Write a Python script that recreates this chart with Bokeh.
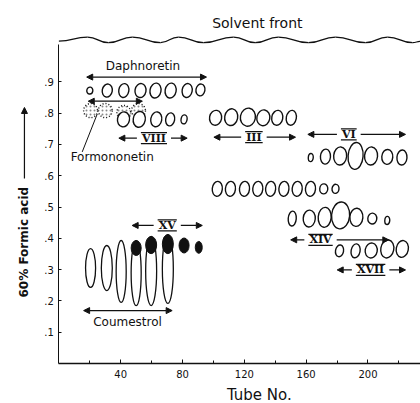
import math
from bokeh.plotting import figure
from bokeh.models import Arrow, NormalHead, FixedTicker, Range1d, Label, ColumnDataSource
from bokeh.core.properties import value
from bokeh.embed import file_html
from bokeh.resources import INLINE

# ---------------- data ----------------
x_major_ticks = [40, 80, 120, 160, 200]
x_minor_ticks = [20, 60, 100, 140, 180, 220]
y_ticks = [0.1, 0.2, 0.3, 0.4, 0.5, 0.6, 0.7, 0.8, 0.9]
y_tick_labels = [".1", ".2", ".3", ".4", ".5", ".6", ".7", ".8", ".9"]

# solvent front (wave crests / troughs, tube no. and Rf)
front_tube = [0, 18.5, 32, 47.6, 65.8, 77.4, 93.6, 113, 127, 142, 161.5, 179, 198.4, 212.7, 228.9, 234]
front_rf = [1.030, 1.043, 1.025, 1.043, 1.025, 1.043, 1.025, 1.043, 1.025, 1.043, 1.025, 1.043, 1.025, 1.043, 1.025, 1.029]

# Daphnoretin spots
daph_tube = [20, 31.3, 42, 52.8, 62.5, 72.3, 83, 91.6]
daph_rf = [0.872, 0.872, 0.872, 0.872, 0.872, 0.872, 0.872, 0.874]
daph_w = [3.9, 6.5, 6.5, 7.1, 7.1, 7.1, 6.5, 5.8]
daph_h = [0.022, 0.042, 0.045, 0.045, 0.048, 0.048, 0.045, 0.038]

# Formononetin spots (stippled)
form_tube = [20.5, 30, 42, 51.5]
form_rf = [0.808, 0.808, 0.802, 0.808]
form_w = [9, 9, 9, 9]
form_h = [0.045, 0.045, 0.045, 0.045]

# VIII
viii_tube = [41.8, 52, 63, 72, 81]
viii_rf = [0.78, 0.78, 0.78, 0.78, 0.78]
viii_w = [7.8, 7.8, 7.1, 5.8, 3.9]
viii_h = [0.048, 0.051, 0.048, 0.042, 0.029]

# III
iii_tube = [101.4, 111.5, 122.3, 132.3, 141.3, 150.4]
iii_rf = [0.785, 0.787, 0.787, 0.785, 0.785, 0.785]
iii_w = [7.8, 8.4, 9.7, 8.4, 7.1, 6.5]
iii_h = [0.048, 0.054, 0.058, 0.051, 0.048, 0.048]

# VI
vi_tube = [163, 172.5, 182, 192, 202, 212.5, 222]
vi_rf = [0.658, 0.661, 0.663, 0.663, 0.663, 0.660, 0.658]
vi_w = [3.2, 6.5, 8.4, 9.7, 8.4, 7.1, 6.5]
vi_h = [0.026, 0.048, 0.058, 0.086, 0.058, 0.048, 0.048]

# unlabelled band at Rf ~0.56
band_tube = [102.5, 111, 120.1, 128.7, 137, 145.6, 154.2, 162.8, 171.4, 179]
band_rf = [0.558] * 10
band_w = [6.5, 6.5, 6.5, 6.5, 6.5, 6.5, 6.5, 6.5, 5.2, 4.5]
band_h = [0.048, 0.048, 0.048, 0.048, 0.048, 0.048, 0.048, 0.048, 0.032, 0.029]

# XIV
xiv_tube = [151, 162, 172, 182.3, 192.5, 202.8, 212.5]
xiv_rf = [0.463, 0.463, 0.467, 0.473, 0.467, 0.463, 0.457]
xiv_w = [5.2, 7.8, 8.4, 11.7, 8.4, 5.8, 3.2]
xiv_h = [0.048, 0.054, 0.064, 0.086, 0.058, 0.035, 0.026]

# XVII
xvii_tube = [181.6, 192, 202.1, 212.5, 222.2]
xvii_rf = [0.36, 0.36, 0.361, 0.366, 0.366]
xvii_w = [5.2, 5.8, 7.8, 8.4, 7.8]
xvii_h = [0.038, 0.045, 0.048, 0.058, 0.054]

# Coumestrol (long streaks)
coum_tube = [20.5, 31, 40.3, 50, 59.7, 70.5]
coum_top = [0.367, 0.377, 0.393, 0.393, 0.406, 0.412]
coum_bottom = [0.243, 0.233, 0.195, 0.185, 0.185, 0.192]
coum_w = [6.5, 7.1, 6.5, 6.5, 7.1, 7.1]

# XV (black spots)
xv_tube = [50, 59.7, 70.5, 81, 90.5]
xv_top = [0.393, 0.406, 0.412, 0.401, 0.390]
xv_bottom = [0.345, 0.351, 0.351, 0.353, 0.352]
xv_w = [6.5, 7.1, 7.1, 6.5, 4.5]

# fraction ranges (roman-numbered)
group_names = ["VIII", "III", "VI", "XIV", "XV", "XVII"]
group_from = [38.8, 100.3, 161.1, 150.0, 47.4, 180.1]
group_to = [83.0, 153.1, 224.3, 213.5, 92.8, 224.3]
group_label_tube = [61.5, 126.2, 187.6, 169.3, 70.1, 201.7]
group_label_rf = [0.720, 0.723, 0.732, 0.395, 0.441, 0.299]

# named compound ranges
named_names = ["Daphnoretin", "Formononetin", "Coumestrol"]
named_from = [18.0, 19.0, 16.0]
named_to = [95.5, 54.0, 73.3]
named_rf = [0.915, 0.838, 0.169]

# ---------------- figure ----------------
W, H = 420, 403
LEFT, BOTTOM = 58.4, 40
XMAX = 234
px_x = (W - LEFT) / XMAX
px_y = 313.0
YMAX = (H - BOTTOM) / px_y
XMIN = -LEFT / px_x
YMIN = -BOTTOM / px_y

p = figure(width=W, height=H, x_range=Range1d(XMIN, XMAX), y_range=Range1d(YMIN, YMAX),
           output_backend="svg", toolbar_location=None,
           min_border_left=0, min_border_right=0, min_border_top=0, min_border_bottom=0)
p.outline_line_color = None
p.grid.visible = False
p.background_fill_color = "white"

ink = "#111111"
FONT = "DejaVu Sans"

xa = p.xaxis[0]
xa.fixed_location = 0
xa.ticker = FixedTicker(ticks=x_major_ticks, minor_ticks=x_minor_ticks)
xa.bounds = (0, XMAX)
xa.axis_line_width = 1.5
xa.axis_line_color = ink
xa.major_tick_in = 4
xa.major_tick_out = 0
xa.minor_tick_in = 3
xa.minor_tick_out = 0
xa.major_tick_line_color = ink
xa.minor_tick_line_color = ink
xa.major_label_text_font = FONT
xa.major_label_text_font_size = "10px"
xa.major_label_text_color = ink
xa.major_label_standoff = 6

ya = p.yaxis[0]
ya.fixed_location = 0
ya.ticker = FixedTicker(ticks=y_ticks, minor_ticks=[])
ya.major_label_overrides = {t: l for t, l in zip(y_ticks, y_tick_labels)}
ya.bounds = (0, 1.02)
ya.axis_line_width = 1
ya.axis_line_color = ink
ya.major_tick_in = 3
ya.major_tick_out = 0
ya.major_tick_line_color = ink
ya.major_label_text_font = FONT
ya.major_label_text_font_size = "10px"
ya.major_label_text_color = ink
ya.major_label_standoff = 5

# solvent front wave
for i in range(len(front_tube) - 1):
    x0, x1 = front_tube[i], front_tube[i + 1]
    y0, y1 = front_rf[i], front_rf[i + 1]
    xm = (x0 + x1) / 2
    p.bezier(x0=x0, y0=y0, x1=x1, y1=y1, cx0=xm, cy0=y0, cx1=xm, cy1=y1,
             line_color=ink, line_width=1.2)
p.text(x=[128.4], y=[1.087], text=["Solvent front"],
       text_font=value(FONT), text_font_size="14px",
       text_align="center", text_baseline="middle", text_color=ink)


def spots(tube, rf, w, h, fill="white", dash="solid", angle=-0.18, hatch=None):
    src = ColumnDataSource(dict(x=tube, y=rf, w=w, h=h))
    kw = {}
    if hatch:
        kw = dict(hatch_pattern="dot", hatch_color="#888888", hatch_scale=4, hatch_weight=1)
    p.ellipse(x="x", y="y", width="w", height="h", angle=angle, source=src,
              fill_color=fill, fill_alpha=0 if fill is None else 1,
              line_color=ink, line_width=1.4, line_dash=dash, **kw)


# Formononetin first (underneath)
spots(form_tube, form_rf, form_w, form_h, fill=None, dash="1 2", angle=0, hatch=True)
spots(daph_tube, daph_rf, daph_w, daph_h)
spots(viii_tube, viii_rf, viii_w, viii_h)
spots(iii_tube, iii_rf, iii_w, iii_h)
spots(vi_tube, vi_rf, vi_w, vi_h, angle=-0.08)
spots(band_tube, band_rf, band_w, band_h, angle=-0.1)
spots(xiv_tube, xiv_rf, xiv_w, xiv_h, angle=-0.08)
spots(xvii_tube, xvii_rf, xvii_w, xvii_h)

# Coumestrol streaks
csrc = ColumnDataSource(dict(x=coum_tube, y=[(a + b) / 2 for a, b in zip(coum_top, coum_bottom)],
                             h=[a - b for a, b in zip(coum_top, coum_bottom)], w=coum_w))
p.ellipse(x="x", y="y", width="w", height="h", source=csrc, fill_color="white",
          line_color=ink, line_width=1.3)
# XV black spots
xsrc = ColumnDataSource(dict(x=xv_tube, y=[(a + b) / 2 for a, b in zip(xv_top, xv_bottom)],
                             h=[a - b for a, b in zip(xv_top, xv_bottom)], w=xv_w))
p.ellipse(x="x", y="y", width="w", height="h", source=xsrc, fill_color=ink,
          line_color=ink, line_width=1)


def head():
    return NormalHead(size=6, fill_color=ink, line_color=ink, line_width=1)


def arrow(x0, y0, x1, y1, both=False, lw=1.3):
    p.add_layout(Arrow(x_start=x0, y_start=y0, x_end=x1, y_end=y1,
                       start=head() if both else None, end=head(),
                       line_color=ink, line_width=lw))


# named compound arrows and labels
for name, a, b, r in zip(named_names, named_from, named_to, named_rf):
    arrow(a, r, b, r, both=True)

p.text(x=[54.4, 34.5, 44.4], y=[0.952, 0.659, 0.131], text=named_names,
       text_font=value(FONT), text_font_size="12px", text_align="center",
       text_baseline="middle", text_color=ink)
# pointer from Formononetin label to its spots
p.segment(x0=[15.1], y0=[0.676], x1=[24.8], y1=[0.797], line_color=ink, line_width=1)

# roman numbered fractions
RFONT = "DejaVu Serif"
RSIZE = 11
char_em = {"V": 0.78, "I": 0.47, "X": 0.78}
bx0, bx1, by = [], [], []
for name, a, b, lx, ly in zip(group_names, group_from, group_to, group_label_tube, group_label_rf):
    wpx = sum(char_em[c] for c in name) * RSIZE + 2
    half = wpx / 2 / px_x
    gap = (wpx / 2 + 4) / px_x
    arrow(lx - gap, ly, a, ly)
    arrow(lx + gap, ly, b, ly)
    dy = 5.5 / px_y
    bx0 += [lx - half, lx - half]
    bx1 += [lx + half, lx + half]
    by += [ly + dy, ly - dy]
p.text(x=group_label_tube, y=group_label_rf, text=group_names, text_font=value(RFONT),
       text_font_size=f"{RSIZE}px", text_font_style="bold", text_align="center",
       text_baseline="middle", text_color=ink)
p.segment(x0=bx0, y0=by, x1=bx1, y1=by, line_color=ink, line_width=1.2)

# axis titles (placed as in the original)
p.add_layout(Label(x=-22.5, y=0.3875, text="60% Formic acid", angle=math.pi / 2,
                   text_font=FONT, text_font_size="12px", text_font_style="bold",
                   text_align="center", text_baseline="middle", text_color=ink))
arrow(-22.3, 0.591, -22.3, 0.818, lw=1.2)
p.add_layout(Label(x=129.7, y=-0.102, text="Tube No.", text_font=FONT, text_font_size="15px",
                   text_align="center", text_baseline="middle", text_color=ink))

open("out.html", "w").write(file_html(p, INLINE))
